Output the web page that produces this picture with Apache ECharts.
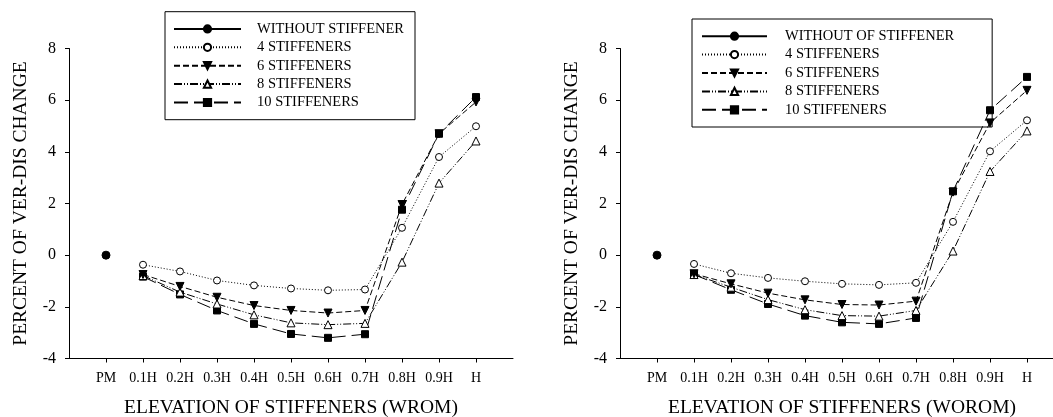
<!DOCTYPE html>
<html>
<head>
<meta charset="utf-8">
<script src="https://cdn.jsdelivr.net/npm/echarts@6/dist/echarts.min.js"></script>
<style>
html,body{margin:0;padding:0;background:#fff;}
#c{width:1053px;height:417px;}
</style>
</head>
<body>
<div id="c"></div>
<script>
// ---- data ----
const categories = ['PM','0.1H','0.2H','0.3H','0.4H','0.5H','0.6H','0.7H','0.8H','0.9H','H'];
const yTicks = [-4, -2, 0, 2, 4, 6, 8];

const namesLeft  = ['WITHOUT STIFFENER','4 STIFFENERS','6 STIFFENERS','8 STIFFENERS','10 STIFFENERS'];
const namesRight = ['WITHOUT OF STIFFENER','4 STIFFENERS','6 STIFFENERS','8 STIFFENERS','10 STIFFENERS'];

// WROM (left)
const wromWithout = [0, null, null, null, null, null, null, null, null, null, null];
const wrom4  = [null, -0.37, -0.63, -0.98, -1.17, -1.29, -1.36, -1.33, 1.06, 3.80, 4.99];
const wrom6  = [null, -0.75, -1.21, -1.63, -1.95, -2.14, -2.24, -2.14, 1.96, 4.70, 5.93];
const wrom8  = [null, -0.79, -1.43, -1.89, -2.31, -2.62, -2.69, -2.64, -0.27, 2.79, 4.42];
const wrom10 = [null, -0.83, -1.52, -2.14, -2.66, -3.05, -3.20, -3.06, 1.76, 4.70, 6.12];

// WOROM (right)
const woromWithout = [0, null, null, null, null, null, null, null, null, null, null];
const worom4  = [null, -0.34, -0.70, -0.88, -1.01, -1.11, -1.15, -1.07, 1.29, 4.02, 5.22];
const worom6  = [null, -0.72, -1.11, -1.47, -1.73, -1.91, -1.93, -1.78, 2.44, 5.12, 6.38];
const worom8  = [null, -0.75, -1.24, -1.72, -2.11, -2.34, -2.36, -2.14, 0.16, 3.24, 4.81];
const worom10 = [null, -0.75, -1.34, -1.89, -2.34, -2.60, -2.66, -2.43, 2.47, 5.61, 6.90];

// ---- styles ----
const FONT = 'Liberation Serif';
const styles = [
  {symbol:'circle', size:8, fill:'#000', dash:'solid'},
  {symbol:'circle', size:7, fill:'#fff', dash:[1,2]},
  {symbol:'triangle', size:8, fill:'#000', dash:[6,3], rotate:180},
  {symbol:'triangle', size:8, fill:'#fff', dash:[8,2,1,2,1,2]},
  {symbol:'rect', size:7, fill:'#000', dash:[14,6]}
];

function pairs(arr){
  const out = [];
  arr.forEach((v,i)=>{ if(v!==null) out.push([i,v]); });
  return out;
}

function makeSeries(names, arrays, idx){
  return arrays.map((arr,k)=>{
    const s = styles[k];
    return {
      type:'line', name:names[k], xAxisIndex:idx, yAxisIndex:idx,
      data:pairs(arr),
      symbol:s.symbol, symbolSize:s.size, symbolRotate:s.rotate||0,
      showAllSymbol:true,
      lineStyle:{color:'#000', width:1, type:s.dash},
      itemStyle:{color:s.fill, borderColor:'#000', borderWidth:1},
      emphasis:{disabled:true},
      animation:false,
      z: 10-k
    };
  });
}

function xAxis(idx, title){
  return {
    type:'value', gridIndex:idx, min:-1, max:11, interval:1,
    axisLine:{show:true, onZero:false, lineStyle:{color:'#000', width:1}},
    axisTick:{show:true, length:4, inside:false, lineStyle:{color:'#000'},
              customValues:categories.map((c,i)=>i)},
    axisLabel:{color:'#000', fontFamily:FONT, fontSize:14, margin:13,
               customValues:categories.map((c,i)=>i),
               formatter:(v)=> (categories[v]!==undefined ? categories[v] : '')},
    splitLine:{show:false},
    name:title, nameLocation:'middle', nameGap:39,
    nameTextStyle:{color:'#000', fontFamily:FONT, fontSize:19.5}
  };
}
function yAxis(idx){
  return {
    type:'value', gridIndex:idx, min:yTicks[0], max:yTicks[yTicks.length-1], interval:2,
    axisLine:{show:true, onZero:false, lineStyle:{color:'#000', width:1}},
    axisTick:{show:true, length:4, inside:false, lineStyle:{color:'#000'}},
    axisLabel:{color:'#000', fontFamily:FONT, fontSize:16, margin:13},
    splitLine:{show:false},
    name:'PERCENT OF VER-DIS CHANGE', nameLocation:'middle', nameGap:38,
    nameTextStyle:{color:'#000', fontFamily:FONT, fontSize:19.5}
  };
}
function legend(names, left, top, itemWidth, padding, textPad){
  return {
    data:names, orient:'vertical', left:left, top:top,
    itemWidth:itemWidth, itemHeight:9, itemGap:0,
    padding:padding,
    borderColor:'#000', borderWidth:1, backgroundColor:'#fff',
    selectedMode:false,
    textStyle:{color:'#000', fontFamily:FONT, fontSize:14.5, lineHeight:18.4, padding:[0,0,0,textPad]}
  };
}

const chart = echarts.init(document.getElementById('c'), null, {renderer:'canvas'});
chart.setOption({
  animation:false,
  backgroundColor:'#fff',
  grid:[
    {left:69, top:48.5, width:444, height:310, containLabel:false, outerBoundsMode:'none'},
    {left:620, top:48.5, width:444, height:310, containLabel:false, outerBoundsMode:'none'}
  ],
  xAxis:[xAxis(0,'ELEVATION OF STIFFENERS (WROM)'), xAxis(1,'ELEVATION OF STIFFENERS (WOROM)')],
  yAxis:[yAxis(0), yAxis(1)],
  legend:[
    legend(namesLeft, 165, 11.7, 67, [8, 11, 8, 8], 11),
    legend(namesRight, 692, 19, 65, [8, 38, 8, 9], 13)
  ],
  series:[].concat(
    makeSeries(namesLeft, [wromWithout, wrom4, wrom6, wrom8, wrom10], 0),
    makeSeries(namesRight, [woromWithout, worom4, worom6, worom8, worom10], 1)
  )
});
</script>
</body>
</html>
